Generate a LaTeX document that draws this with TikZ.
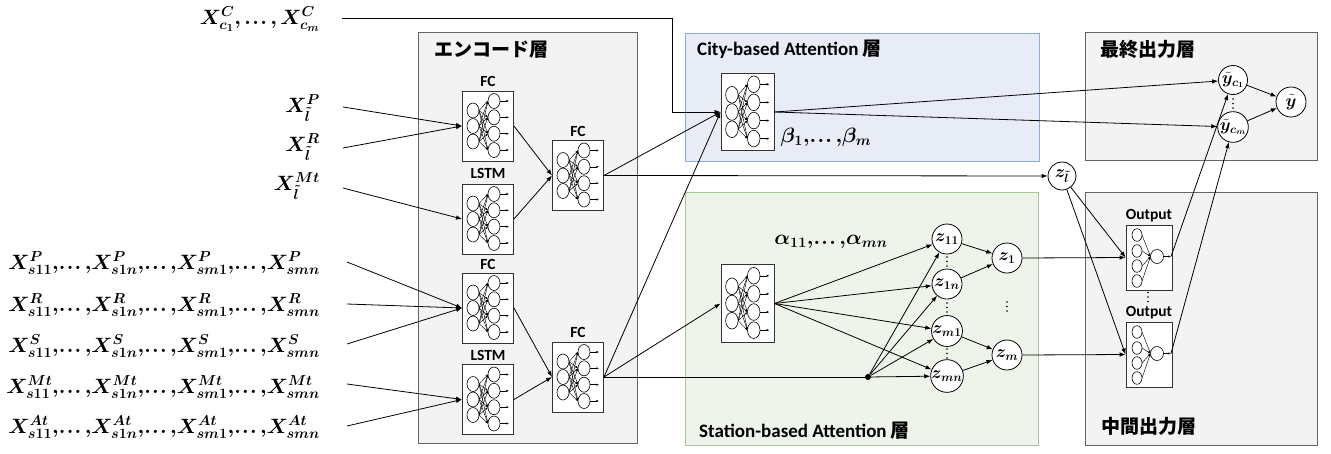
\documentclass[tikz,border=0pt]{standalone}
\usepackage{fontspec}
\usepackage{amsmath}
\usepackage{bm}
\setmainfont{Carlito}
\newfontfamily\cjk{Noto Sans CJK JP}
\usetikzlibrary{arrows.meta,calc}
\definecolor{cityf}{RGB}{231,236,247}
\definecolor{cityb}{RGB}{143,170,220}
\definecolor{statf}{RGB}{239,244,235}
\definecolor{statb}{RGB}{169,196,156}
\definecolor{layf}{RGB}{243,243,243}
\definecolor{layb}{RGB}{100,100,100}
\newcommand{\dts}{\mathinner{.\mkern1mu.\mkern1mu.}}
\newcommand{\sepd}{,\!\dts,\!}

% neural block: name, x, y, xscale, yscale
\newcommand{\nnblk}[5]{%
  \node[blk, minimum width=#4*51pt, minimum height=#5*70pt] (#1) at (#2,#3) {};
  \begin{scope}[shift={(#2,#3)}, xscale=#4, yscale=#5]
    \foreach \ly in {-15.5,0,15.5} {
      \foreach \ry in {-25,-8.7,7.7,24} {
        \draw[inarr] (-9,\ly) -- (0,\ry);
      }
    }
    \foreach \ly in {-15.5,0,15.5} {
      \draw[neuron] (-15,\ly) ellipse [x radius=6, y radius=7.5];
    }
    \foreach \ry in {-25,-8.7,7.7,24} {
      \draw[neuron] (6,\ry) ellipse [x radius=6, y radius=7.5];
      \draw[inarr] (12,\ry) -- (21,\ry);
    }
  \end{scope}}

% output block: name, x, y
\newcommand{\outblk}[3]{%
  \node[blk, minimum width=46pt, minimum height=65pt] (#1) at (#2,#3) {};
  \begin{scope}[shift={(#2,#3)}]
    \foreach \ly in {-22.5,-6.5,8.5,23.5} {
      \draw[inarr] (-7,\ly) -- (1.5,-1);
    }
    \foreach \ly in {-22.5,-6.5,8.5,23.5} {
      \draw[neuron] (-12,\ly) ellipse [x radius=5, y radius=6.3];
    }
    \draw[neuron] (8,-1) ellipse [x radius=6.5, y radius=7];
    \coordinate (#1o) at (22,-1);
    \draw[inarr] (14.5,-1) -- (#1o);
  \end{scope}}

\newcommand{\vdt}[2]{%
  \foreach \d in {-4.5,0,4.5} {\fill (#1,#2+\d) circle [radius=0.8];}}

\begin{document}
\begin{tikzpicture}[x=1pt,y=-1pt,
  layer/.style={draw=layb, line width=1pt, fill=layf, inner sep=0},
  citybox/.style={draw=cityb, line width=1pt, fill=cityf, inner sep=0},
  statbox/.style={draw=statb, line width=1pt, fill=statf, inner sep=0},
  blk/.style={rectangle, draw=black!80, line width=0.9pt, fill=white, inner sep=0},
  neuron/.style={draw=black, line width=0.6pt, fill=white},
  inarr/.style={line width=0.45pt, -{Latex[length=2.6pt,width=2.2pt]}},
  conn/.style={line width=0.8pt, -{Latex[length=6pt,width=4.5pt]}},
  wire/.style={line width=0.8pt},
  zc/.style={circle, draw, line width=0.8pt, fill=white, minimum size=30pt, inner sep=0, font=\fontsize{17}{19}\selectfont},
  ttl/.style={font=\fontsize{19}{22}\selectfont\bfseries, anchor=base west, inner sep=0},
  blbl/.style={font=\fontsize{15.5}{17}\selectfont\bfseries, anchor=base, inner sep=0},
  inp/.style={font=\fontsize{22}{26}\selectfont, anchor=east, inner sep=0},
  coef/.style={font=\fontsize{21}{25}\selectfont, inner sep=0}]
\useasboundingbox (0,0) rectangle (1331,453);

% layer boxes
\node[layer, minimum width=219pt, minimum height=411pt] (enc) at (527.5,237.5) {};
\node[citybox, minimum width=354pt, minimum height=128pt] (city) at (862,97) {};
\node[statbox, minimum width=353pt, minimum height=253pt] (stat) at (861.5,318.5) {};
\node[layer, minimum width=232pt, minimum height=128pt] (fin) at (1201,96) {};
\node[layer, minimum width=232pt, minimum height=253pt] (mid) at (1201,318.5) {};

\node[ttl] (encT) at (434,56) {{\cjk\bfseries エンコード層}};
\node[ttl] (cityT) at (697,55) {City-based Attention {\cjk\bfseries 層}};
\node[ttl] (statT) at (699,437) {Station-based Attention {\cjk\bfseries 層}};
\node[ttl] (finT) at (1100,56) {{\cjk\bfseries 最終出力層}};
\node[ttl] (midT) at (1101,433) {{\cjk\bfseries 中間出力層}};

% blocks
\nnblk{B1}{488}{126}{1}{1}
\nnblk{B2}{488}{219}{1}{1}
\nnblk{B3}{578}{175.5}{1}{1}
\nnblk{B4}{488}{308}{1}{1}
\nnblk{B5}{488}{399.5}{1}{1}
\nnblk{B6}{578}{377}{1}{1}
\nnblk{B7}{747.5}{112}{1.04}{1.11}
\nnblk{B8}{747.5}{303.5}{1.04}{1.11}
\outblk{O1}{1149}{257.5}
\outblk{O2}{1149}{354.5}

\node[blbl] (B1l) at ([yshift=4pt]B1.north) {FC};
\node[blbl] (B2l) at ([yshift=5pt]B2.north) {LSTM};
\node[blbl] (B3l) at ([yshift=4pt]B3.north) {FC};
\node[blbl] (B4l) at ([yshift=3pt]B4.north) {FC};
\node[blbl] (B5l) at ([yshift=4pt]B5.north) {LSTM};
\node[blbl] (B6l) at ([yshift=4pt]B6.north) {FC};
\node[blbl] (O1l) at ([yshift=5pt]O1.north) {Output};
\node[blbl] (O2l) at ([yshift=5pt]O2.north) {Output};

% input labels
\node[inp] (XC) at (320,19) {$\bm{X^{C}_{c_1},\dts,X^{C}_{c_m}}$};
\node[inp] (XP) at (320,108) {$\bm{X^{P}_{\tilde{l}}}$};
\node[inp] (XR) at (320,147) {$\bm{X^{R}_{\tilde{l}}}$};
\node[inp] (XM) at (320,186) {$\bm{X^{Mt}_{\tilde{l}}}$};
\node[inp] (SP) at (320,263) {$\bm{X^{P}_{s11}\sepd X^{P}_{s1n}\sepd X^{P}_{sm1}\sepd X^{P}_{smn}}$};
\node[inp] (SR) at (320,305) {$\bm{X^{R}_{s11}\sepd X^{R}_{s1n}\sepd X^{R}_{sm1}\sepd X^{R}_{smn}}$};
\node[inp] (SS) at (320,346) {$\bm{X^{S}_{s11}\sepd X^{S}_{s1n}\sepd X^{S}_{sm1}\sepd X^{S}_{smn}}$};
\node[inp] (SM) at (320,387) {$\bm{X^{Mt}_{s11}\sepd X^{Mt}_{s1n}\sepd X^{Mt}_{sm1}\sepd X^{Mt}_{smn}}$};
\node[inp] (SA) at (320,427) {$\bm{X^{At}_{s11}\sepd X^{At}_{s1n}\sepd X^{At}_{sm1}\sepd X^{At}_{smn}}$};

\coordinate (sC) at (342,18);
\coordinate (sP) at (343,107);
\coordinate (sR) at (343,148);
\coordinate (sM) at (343,188);
\coordinate (tP) at (347,262);
\coordinate (tR) at (347,304);
\coordinate (tS) at (347,344);
\coordinate (tM) at (347,384);
\coordinate (tA) at (347,426);

% circles
\node[zc] (z11) at (947,239) {$\bm{z_{11}}$};
\node[zc] (z1n) at (947,284) {$\bm{z_{1n}}$};
\node[zc] (zm1) at (947,331) {$\bm{z_{m1}}$};
\node[zc] (zmn) at (947,376) {$\bm{z_{mn}}$};
\node[zc] (z1) at (1007,258) {$\bm{z_{1}}$};
\node[zc] (zm) at (1007,355) {$\bm{z_{m}}$};
\node[zc, minimum size=28pt] (zl) at (1062,176) {$\bm{z_{\tilde{l}}}$};
\node[zc, minimum size=29pt] (yc1) at (1233,80) {$\bm{\tilde{y}_{c_1}}$};
\node[zc, minimum size=29pt] (ycm) at (1233,127) {$\bm{\tilde{y}_{c_m}}$};
\node[zc] (yy) at (1291,102) {$\bm{\tilde{y}}$};
\node[circle, fill, inner sep=0, minimum size=6pt] (J) at (868,377) {};

\vdt{947}{261.5}
\vdt{947}{307.5}
\vdt{947}{353.5}
\vdt{1007}{306.5}
\vdt{1233}{103.5}
\vdt{1148}{297}

\node[coef] (alpha) at (831,242) {$\bm{\alpha_{11}\sepd\alpha_{mn}}$};
\node[coef] (beta) at (826,137) {$\bm{\beta_{1}\sepd\beta_{m}}$};

% connectors: inputs
\draw[conn] (sC) -| ([xshift=-48pt]B7.west) -- (B7.west);
\draw[conn] (sP) -- (B1.west);
\draw[conn] (sR) -- (B1.west);
\draw[conn] (sM) -- (B2.west);
\draw[conn] (tP) -- (B4.west);
\draw[conn] (tR) -- (B4.west);
\draw[conn] (tS) -- (B4.west);
\draw[conn] (tM) -- (B5.west);
\draw[conn] (tA) -- (B5.west);

% encoder internal
\draw[conn] (B1.east) -- (B3.west);
\draw[conn] (B2.east) -- (B3.west);
\draw[conn] (B4.east) -- (B6.west);
\draw[conn] (B5.east) -- (B6.west);

% encoder outputs
\draw[conn] (B3.east) -- (B7.west);
\draw[conn] (B3.east) -- (zl);
\draw[conn] (B6.east) -- (B7.west);
\draw[conn] (B6.east) -- (B8.west);
\draw[wire] (B6.east) -- (J);

% station attention
\foreach \t in {z11,z1n,zm1,zmn} {
  \draw[conn] (B8.east) -- (\t);
  \draw[conn] (J) -- (\t);
}
\draw[conn] (z11) -- (z1);
\draw[conn] (z1n) -- (z1);
\draw[conn] (zm1) -- (zm);
\draw[conn] (zmn) -- (zm);

% to intermediate outputs
\draw[conn] (z1.east) -- (O1.west);
\draw[conn] (zm.east) -- (O2.west);
\draw[conn] (zl) -- (O1.west);
\draw[conn] (zl) -- (O2.west);

% final outputs
\draw[conn] (O1o) -- (yc1);
\draw[conn] (O2o) -- (ycm);
\draw[conn] (B7.east) -- (yc1);
\draw[conn] (B7.east) -- (ycm);
\draw[conn] (yc1) -- (yy);
\draw[conn] (ycm) -- (yy);
\end{tikzpicture}
\end{document}
